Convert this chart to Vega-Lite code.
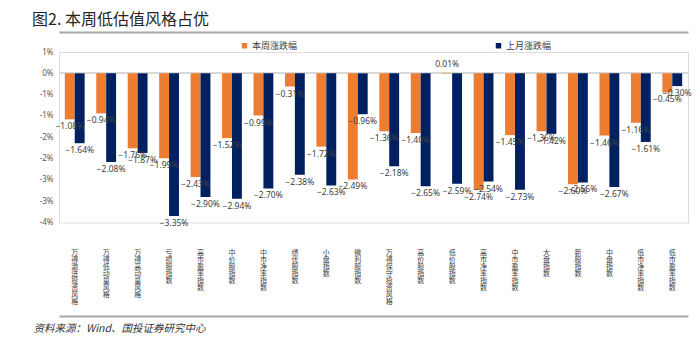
{
  "$schema": "https://vega.github.io/schema/vega-lite/v6.json",
  "width": 629,
  "height": 170.5,
  "autosize": {"type": "none"},
  "padding": {"left": 59, "top": 52, "right": 9, "bottom": 120.5},
  "background": "white",
  "title": {
    "text": "图2. 本周低估值风格占优",
    "anchor": "start",
    "frame": "group",
    "dx": -27,
    "offset": 4,
    "font": "Noto Sans CJK SC",
    "fontSize": 16,
    "fontWeight": "normal",
    "color": "#262626"
  },
  "datasets": {
    "rows": [
      {"cat": "万得激进投资风格", "series": "本周涨跌幅", "v": -0.0108},
      {"cat": "万得激进投资风格", "series": "上月涨跌幅", "v": -0.0164},
      {"cat": "万得低动量风格", "series": "本周涨跌幅", "v": -0.0094},
      {"cat": "万得低动量风格", "series": "上月涨跌幅", "v": -0.0208},
      {"cat": "万得高动量风格", "series": "本周涨跌幅", "v": -0.0176},
      {"cat": "万得高动量风格", "series": "上月涨跌幅", "v": -0.0187},
      {"cat": "亏损股指数", "series": "本周涨跌幅", "v": -0.0199},
      {"cat": "亏损股指数", "series": "上月涨跌幅", "v": -0.0335},
      {"cat": "高市盈率指数", "series": "本周涨跌幅", "v": -0.0243},
      {"cat": "高市盈率指数", "series": "上月涨跌幅", "v": -0.0290},
      {"cat": "中价股指数", "series": "本周涨跌幅", "v": -0.0152},
      {"cat": "中价股指数", "series": "上月涨跌幅", "v": -0.0294},
      {"cat": "中市净率指数", "series": "本周涨跌幅", "v": -0.0099},
      {"cat": "中市净率指数", "series": "上月涨跌幅", "v": -0.0270},
      {"cat": "绩优股指数", "series": "本周涨跌幅", "v": -0.0031},
      {"cat": "绩优股指数", "series": "上月涨跌幅", "v": -0.0238},
      {"cat": "小盘指数", "series": "本周涨跌幅", "v": -0.0172},
      {"cat": "小盘指数", "series": "上月涨跌幅", "v": -0.0263},
      {"cat": "微利股指数", "series": "本周涨跌幅", "v": -0.0249},
      {"cat": "微利股指数", "series": "上月涨跌幅", "v": -0.0096},
      {"cat": "万得保守投资风格", "series": "本周涨跌幅", "v": -0.0136},
      {"cat": "万得保守投资风格", "series": "上月涨跌幅", "v": -0.0218},
      {"cat": "高价股指数", "series": "本周涨跌幅", "v": -0.0140},
      {"cat": "高价股指数", "series": "上月涨跌幅", "v": -0.0265},
      {"cat": "低价股指数", "series": "本周涨跌幅", "v": 0.0001},
      {"cat": "低价股指数", "series": "上月涨跌幅", "v": -0.0259},
      {"cat": "高市净率指数", "series": "本周涨跌幅", "v": -0.0274},
      {"cat": "高市净率指数", "series": "上月涨跌幅", "v": -0.0254},
      {"cat": "中市盈率指数", "series": "本周涨跌幅", "v": -0.0145},
      {"cat": "中市盈率指数", "series": "上月涨跌幅", "v": -0.0273},
      {"cat": "大盘指数", "series": "本周涨跌幅", "v": -0.0136},
      {"cat": "大盘指数", "series": "上月涨跌幅", "v": -0.0142},
      {"cat": "新股指数", "series": "本周涨跌幅", "v": -0.0260},
      {"cat": "新股指数", "series": "上月涨跌幅", "v": -0.0256},
      {"cat": "中盘指数", "series": "本周涨跌幅", "v": -0.0146},
      {"cat": "中盘指数", "series": "上月涨跌幅", "v": -0.0267},
      {"cat": "低市净率指数", "series": "本周涨跌幅", "v": -0.0116},
      {"cat": "低市净率指数", "series": "上月涨跌幅", "v": -0.0161},
      {"cat": "低市盈率指数", "series": "本周涨跌幅", "v": -0.0045},
      {"cat": "低市盈率指数", "series": "上月涨跌幅", "v": -0.0030}
    ]
  },
  "data": {"name": "rows"},
  "resolve": {"axis": {"x": "independent"}},
  "layer": [
    {
      "mark": {"type": "rule", "color": "#d9d9d9", "strokeWidth": 1},
      "encoding": {
        "y": {
          "datum": 0, "type": "quantitative",
          "scale": {"domain": [-0.035, 0.005], "nice": false, "zero": false},
          "axis": {
            "title": null,
            "values": [0.005, 0, -0.005, -0.01, -0.015, -0.02, -0.025, -0.03, -0.035],
            "tickCount": 12,
            "labelExpr": "(datum.value < 0 ? '-' : '') + round(abs(datum.value) * 100) + '%'",
            "labelOverlap": false,
            "domain": false,
            "ticks": false,
            "grid": false,
            "labelPadding": 6,
            "labelFont": "Noto Sans",
            "labelFontSize": 8,
            "labelColor": "#595959"
          }
        }
      }
    },
    {
      "mark": {"type": "bar"},
      "encoding": {
        "x": {
          "field": "cat", "type": "nominal", "sort": null,
          "scale": {"paddingInner": 0.37, "paddingOuter": 0.185},
          "axis": {
            "orient": "bottom",
            "title": "资料来源：Wind、国投证券研究中心",
            "titleFont": "Noto Sans CJK SC",
            "titleFontSize": 10.5,
            "titleFontStyle": "italic",
            "titleFontWeight": "normal",
            "titleColor": "#333333",
            "titleAnchor": "start",
            "titleAlign": "left",
            "titleBaseline": "middle",
            "titleX": -26,
            "titleY": 12,
            "offset": 93.5,
            "domainColor": "#a6a6a6",
            "domainWidth": 2,
            "ticks": false,
            "labelAngle": 0,
            "labelPadding": -68,
            "labelBaseline": "top",
            "labelAlign": "center",
            "labelOverlap": false,
            "labelFont": "Noto Sans CJK SC",
            "labelFontSize": 7,
            "labelLineHeight": 7,
            "labelColor": "#404040",
            "labelExpr": "split(datum.label, '')"
          }
        },
        "xOffset": {"field": "series", "type": "nominal", "sort": ["本周涨跌幅", "上月涨跌幅"]},
        "y": {"field": "v", "type": "quantitative"},
        "color": {
          "field": "series", "type": "nominal",
          "scale": {"domain": ["本周涨跌幅", "上月涨跌幅"], "range": ["#ED7D31", "#002060"]},
          "legend": {
            "title": null,
            "orient": "none",
            "legendX": 181,
            "legendY": -11,
            "direction": "horizontal",
            "columnPadding": 196,
            "symbolType": "square",
            "symbolSize": 30,
            "symbolStrokeWidth": 0,
            "labelFont": "Noto Sans CJK SC",
            "labelFontSize": 9,
            "labelColor": "#404040",
            "labelOffset": 3
          }
        }
      }
    },
    {
      "transform": [{"filter": "datum.v < 0"}],
      "mark": {"type": "text", "baseline": "top", "dy": 3, "font": "Noto Sans", "fontSize": 8.5, "color": "#404040"},
      "encoding": {
        "x": {
          "field": "cat", "type": "nominal", "sort": null,
          "axis": {"orient": "top", "offset": 20, "labels": false, "ticks": false, "title": null, "domainColor": "#a6a6a6", "domainWidth": 2}
        },
        "xOffset": {"field": "series", "type": "nominal", "sort": ["本周涨跌幅", "上月涨跌幅"]},
        "y": {"field": "v", "type": "quantitative"},
        "text": {"field": "v", "type": "quantitative", "format": ".2%"}
      }
    },
    {
      "transform": [{"filter": "datum.v >= 0"}],
      "mark": {"type": "text", "baseline": "bottom", "dy": -4, "font": "Noto Sans", "fontSize": 8.5, "color": "#404040"},
      "encoding": {
        "x": {"field": "cat", "type": "nominal", "sort": null, "axis": null},
        "xOffset": {"field": "series", "type": "nominal", "sort": ["本周涨跌幅", "上月涨跌幅"]},
        "y": {"field": "v", "type": "quantitative"},
        "text": {"field": "v", "type": "quantitative", "format": ".2%"}
      }
    }
  ]
}
